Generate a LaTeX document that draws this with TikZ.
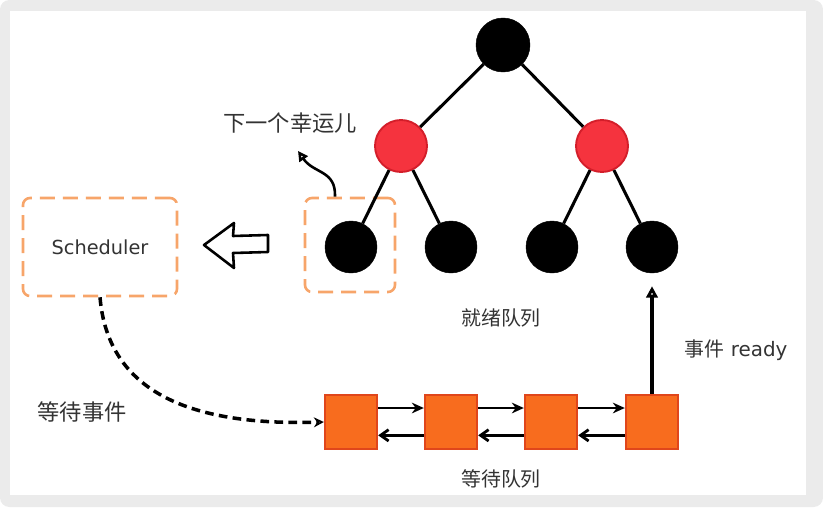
\documentclass[tikz,border=0pt]{standalone}
\usepackage{fontspec}
\setmainfont{DejaVu Sans}
\newfontfamily\cjk{Noto Sans CJK SC}
\usetikzlibrary{arrows.meta}
\definecolor{framegray}{HTML}{EBEBEB}
\definecolor{ink}{HTML}{333333}
\definecolor{rbfill}{HTML}{F5333E}
\definecolor{rbline}{HTML}{D41E2A}
\definecolor{qfill}{HTML}{F86C1E}
\definecolor{qline}{HTML}{E0461B}
\definecolor{pickline}{HTML}{F7A56A}
\tikzset{
    tree edge/.style = {draw, line width=2.6pt},
    black vertex/.style = {circle, fill=black, draw=black, minimum size=1.56cm, inner sep=0pt},
    red vertex/.style = {circle, fill=rbfill, draw=rbline, line width=1.6pt, minimum size=1.56cm, inner sep=0pt},
    qnode/.style = {rectangle, fill=qfill, draw=qline, line width=2pt, minimum width=1.56cm, minimum height=1.62cm},
    pickbox/.style = {rectangle, draw=pickline, line width=2.2pt, dash pattern=on 0.45cm off 0.24cm, rounded corners=6pt},
    tag/.style = {text=ink, font=\cjk\fontsize{19}{22}\selectfont},
    small tag/.style = {text=ink, font=\cjk\fontsize{17}{20}\selectfont},
}
\tikzset{
    next link/.style = {draw, line width=2.4pt, -{Stealth[open, length=3.6mm, width=3.2mm]}},
    prev link/.style = {draw, line width=2.4pt, -{Straight Barb[length=2.4mm, width=3.4mm]}},
    up link/.style = {draw, line width=2.6pt, -{Triangle[open, length=3.4mm, width=3.4mm]}, shorten >=0.39cm},
    curl link/.style = {draw, line width=2.2pt, -{Triangle[open, length=3mm, width=3mm]}},
    wait link/.style = {draw, line width=3pt, dash pattern=on 0.26cm off 0.16cm, -{Stealth[open, length=3mm, width=3mm]}},
}

\begin{document}
\begin{tikzpicture}[x=0.03cm, y=-0.03cm]
    \useasboundingbox (0,0) rectangle (823,507);
    \fill[framegray, rounded corners=8pt] (0,0) rectangle (823,507);
    \fill[white] (10,11) rectangle (806,495);

    \node[pickbox, minimum width=2.7cm, minimum height=2.82cm] (pick) at (350,245) {};
    \node[pickbox, minimum width=4.62cm, minimum height=2.94cm, text=ink, font=\fontsize{16.5}{19}\selectfont] (sched) at (100,247) {Scheduler};

    \node[black vertex, minimum height=1.62cm] (root) at (503,45) {};
    \node[red vertex] (rl) at (401,146) {};
    \node[red vertex] (rr) at (602,146) {};
    \node[black vertex] (l1) at (351,247) {};
    \node[black vertex] (l2) at (451,247) {};
    \node[black vertex] (l3) at (552,247) {};
    \node[black vertex] (l4) at (652,247) {};

    \draw[tree edge] (root) -- (rl);
    \draw[tree edge] (root) -- (rr);
    \draw[tree edge] (rl) -- (l1);
    \draw[tree edge] (rl) -- (l2);
    \draw[tree edge] (rr) -- (l3);
    \draw[tree edge] (rr) -- (l4);

    \node[qnode] (q1) at (351,422) {};
    \node[qnode] (q2) at (451,422) {};
    \node[qnode] (q3) at (551,422) {};
    \node[qnode] (q4) at (652,422) {};

    \draw[next link] ([yshift=0.42cm]q1.east) -- ([yshift=0.42cm]q2.west);
    \draw[next link] ([yshift=0.42cm]q2.east) -- ([yshift=0.42cm]q3.west);
    \draw[next link] ([yshift=0.42cm]q3.east) -- ([yshift=0.42cm]q4.west);
    \draw[prev link] ([yshift=-0.4cm]q2.west) -- ([yshift=-0.4cm]q1.east);
    \draw[prev link] ([yshift=-0.4cm]q3.west) -- ([yshift=-0.4cm]q2.east);
    \draw[prev link] ([yshift=-0.4cm]q4.west) -- ([yshift=-0.4cm]q3.east);

    \draw[up link] (q4.north) -- (l4.south);
    \draw[wait link] (sched.south) .. controls (108,392) and (190,426) .. (q1.west);

    \coordinate (luckytip) at (298,151);
    \draw[curl link] ([xshift=-0.45cm]pick.north) .. controls (336,170) and (314,174) .. (luckytip);

    % hollow arrow from the picked leaf to the scheduler
    \draw[line width=2.2pt, line join=round] (204,245) -- (234,223) -- (233,236) -- (268,235)
        -- (268,252) -- (233,253) -- (234,268) -- cycle;

    \node[tag] (lucky) at (290,123) {下一个幸运儿};
    \node[small tag] (readyq) at (501,318) {就绪队列};
    \node[tag] (waitev) at (82,412) {等待事件};
    \node[small tag] (waitq) at (501,479) {等待队列};
    \node[text=ink, font=\fontsize{17}{20}\selectfont] (evready) at (736,350) {{\cjk 事件} ready};
\end{tikzpicture}
\end{document}
